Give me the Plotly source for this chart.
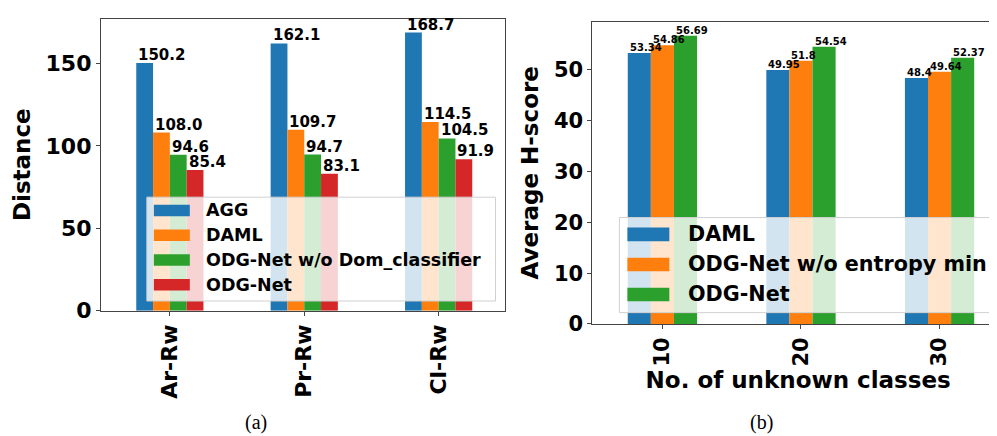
import plotly.graph_objects as go

# ---------------- data ----------------
cats_a = ["Ar-Rw", "Pr-Rw", "Cl-Rw"]
names_a = ["AGG", "DAML", "ODG-Net w/o Dom_classifier", "ODG-Net"]
agg = [150.2, 162.1, 168.7]
daml_a = [108.0, 109.7, 114.5]
odg_wo_dom = [94.6, 94.7, 104.5]
odg_a = [85.4, 83.1, 91.9]
series_a = [agg, daml_a, odg_wo_dom, odg_a]

cats_b = ["10", "20", "30"]
names_b = ["DAML", "ODG-Net w/o entropy min", "ODG-Net"]
daml_b = [53.34, 49.95, 48.4]
odg_wo_ent = [54.86, 51.8, 49.64]
odg_b = [56.69, 54.54, 52.37]
series_b = [daml_b, odg_wo_ent, odg_b]

colors = ["#1f77b4", "#ff7f0e", "#2ca02c", "#d62728"]

W, H = 997, 436
FONT = "DejaVu Sans"
AX = "#444444"

def px(x):
    return x / W

def py(y):
    return 1 - y / H

fig = go.Figure()
annotations = []
shapes = []

# ---------------- panel (a) ----------------
nA = len(series_a)
wA = 0.5 / nA
for j, (vals, name) in enumerate(zip(series_a, names_a)):
    off = -0.25 + j * wA
    fig.add_trace(go.Bar(x=list(range(len(cats_a))), y=vals, width=wA, offset=off,
                         marker=dict(color=colors[j], line=dict(width=0)),
                         name=name, showlegend=False, xaxis="x", yaxis="y"))
    for i, v in enumerate(vals):
        annotations.append(dict(x=i + off, y=v, xref="x", yref="y", text=f"{v:.1f}",
                                xanchor="left", yanchor="bottom", showarrow=False, yshift=-3,
                                font=dict(family=FONT, size=15, color="black", weight="bold")))

# ---------------- panel (b) ----------------
nB = len(series_b)
wB = 0.5 / nB
for j, (vals, name) in enumerate(zip(series_b, names_b)):
    off = -0.25 + j * wB
    fig.add_trace(go.Bar(x=list(range(len(cats_b))), y=vals, width=wB, offset=off,
                         marker=dict(color=colors[j], line=dict(width=0)),
                         name=name, showlegend=False, xaxis="x2", yaxis="y2"))
    for i, v in enumerate(vals):
        annotations.append(dict(x=i + off, y=v, xref="x2", yref="y2", text=str(v),
                                xanchor="left", yanchor="bottom", showarrow=False, yshift=-2,
                                font=dict(family=FONT, size=10, color="black", weight="bold")))

# ---------------- custom legends ----------------
def legend(names, box, hx0, hx1, hh, row0, dy, tx, fsize):
    x0, y0, x1, y1 = box
    shapes.append(dict(type="rect", xref="paper", yref="paper", layer="above",
                       x0=px(x0), x1=px(x1), y0=py(y1), y1=py(y0),
                       fillcolor="rgba(255,255,255,0.8)", line=dict(color="#d0d0d0", width=1)))
    for k, name in enumerate(names):
        cy = row0 + k * dy
        shapes.append(dict(type="rect", xref="paper", yref="paper", layer="above",
                           x0=px(hx0), x1=px(hx1), y0=py(cy + hh / 2), y1=py(cy - hh / 2),
                           fillcolor=colors[k], line=dict(width=0)))
        annotations.append(dict(x=px(tx), y=py(cy), xref="paper", yref="paper", text=name,
                                xanchor="left", yanchor="middle", showarrow=False,
                                font=dict(family=FONT, size=fsize, color="black", weight="bold")))

legend(names_a, (139, 195, 488, 302), 146, 182, 12, 208.7, 25.5, 196, 17.5)
legend(names_b, (612, 216, 992, 314), 620, 662, 14, 233.3, 31, 679, 20.7)

# captions
annotations.append(dict(x=px(248), y=py(427.5), xref="paper", yref="paper", text="(a)",
                        showarrow=False, xanchor="center", yanchor="middle",
                        font=dict(family="Liberation Serif", size=20, color="black")))
annotations.append(dict(x=px(754), y=py(427.5), xref="paper", yref="paper", text="(b)",
                        showarrow=False, xanchor="center", yanchor="middle",
                        font=dict(family="Liberation Serif", size=20, color="black")))

tickfont = dict(family=FONT, size=22, color="black", weight="bold")
tickfont2 = dict(family=FONT, size=21, color="black", weight="bold")
titlefont = dict(family=FONT, size=23, color="black", weight="bold")
axcommon = dict(showline=True, linecolor=AX, linewidth=1, mirror=True, ticks="outside",
                ticklen=4, tickcolor=AX, showgrid=False, zeroline=False)

fig.update_layout(
    width=W, height=H, margin=dict(l=0, r=0, t=0, b=0),
    paper_bgcolor="white", plot_bgcolor="white",
    barmode="overlay", showlegend=False,
    xaxis=dict(domain=[px(93), px(497)], range=[-0.513, 2.49], tickvals=list(range(len(cats_a))),
               ticktext=cats_a, tickangle=-90, tickfont=tickfont, anchor="y", **axcommon),
    yaxis=dict(domain=[py(312), py(11)], range=[0, 177.1], tickvals=[0, 50, 100, 150],
               tickfont=tickfont, title=dict(text="Distance", font=titlefont, standoff=8),
               anchor="x", **axcommon),
    xaxis2=dict(domain=[px(585), 1.0], range=[-0.505, 2.465], tickvals=list(range(len(cats_b))),
                ticktext=cats_b, tickangle=-90, tickfont=tickfont2,
                title=dict(text="No. of unknown classes", font=titlefont, standoff=4),
                anchor="y2", **axcommon),
    yaxis2=dict(domain=[py(325.7), py(14)], range=[0, 59.5], tickvals=[0, 10, 20, 30, 40, 50],
                tickfont=tickfont2,
                title=dict(text="Average H-score", font=titlefont, standoff=8),
                anchor="x2", **axcommon),
    annotations=annotations, shapes=shapes,
)

fig.write_html("out.html")
